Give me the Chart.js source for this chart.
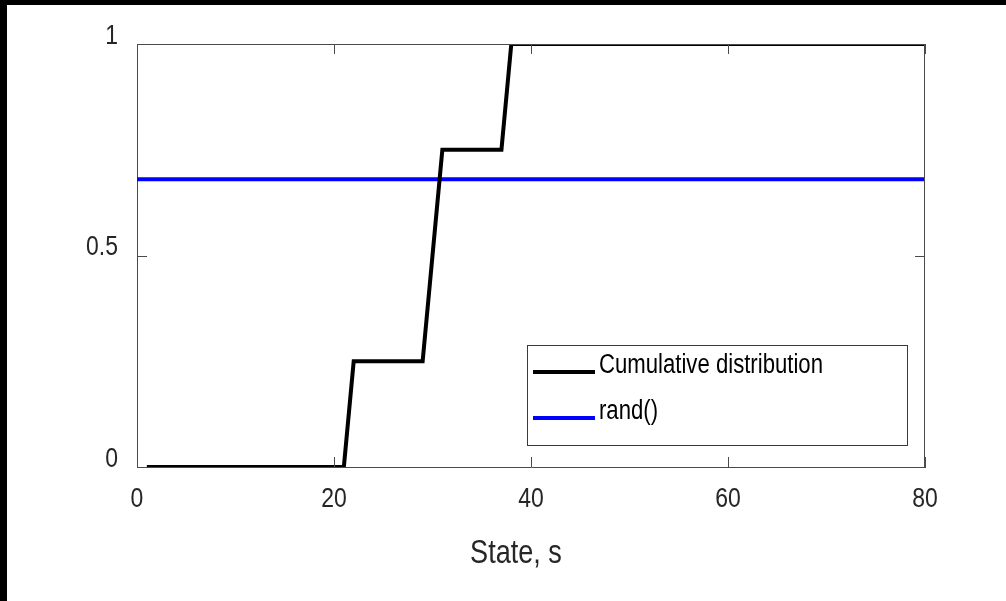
<!DOCTYPE html>
<html>
<head>
<meta charset="utf-8">
<style>
  html, body { margin: 0; padding: 0; background: #fff; }
  #wrap { width: 1006px; height: 601px; }
</style>
<script src="https://cdn.jsdelivr.net/npm/chart.js@4/dist/chart.umd.min.js"></script>
</head>
<body>
<div id="wrap"><canvas id="myChart" width="1006" height="601"></canvas></div>
<script>
var states = [1, 2, 3, 4, 5, 6, 7, 8, 9, 10, 11, 12, 13, 14, 15, 16, 17, 18, 19, 20,
  21, 22, 23, 24, 25, 26, 27, 28, 29, 30, 31, 32, 33, 34, 35, 36, 37, 38, 39, 40,
  41, 42, 43, 44, 45, 46, 47, 48, 49, 50, 51, 52, 53, 54, 55, 56, 57, 58, 59, 60,
  61, 62, 63, 64, 65, 66, 67, 68, 69, 70, 71, 72, 73, 74, 75, 76, 77, 78, 79, 80];
var cdf = [0, 0, 0, 0, 0, 0, 0, 0, 0, 0, 0, 0, 0, 0, 0, 0, 0, 0, 0, 0,
  0, 0.25, 0.25, 0.25, 0.25, 0.25, 0.25, 0.25, 0.25, 0.5, 0.75, 0.75, 0.75, 0.75, 0.75, 0.75, 0.75, 1, 1, 1,
  1, 1, 1, 1, 1, 1, 1, 1, 1, 1, 1, 1, 1, 1, 1, 1, 1, 1, 1, 1,
  1, 1, 1, 1, 1, 1, 1, 1, 1, 1, 1, 1, 1, 1, 1, 1, 1, 1, 1, 1];
var randX = [0, 80];
var randY = [0.68, 0.68];
var seriesLabels = ["Cumulative distribution", "rand()"];
var xTitle = "State, s";
var xTicks = [0, 20, 40, 60, 80];
var yTicks = [0, 0.5, 1];

var FONT = "'Liberation Sans', Arial, sans-serif";
var TXT = '#262626';
var AX = '#4a4a4a';
var SQUEEZE = 0.82; // the reference text is a narrow face

var ctx = document.getElementById('myChart').getContext('2d');
// squeeze every text run horizontally around its anchor
var origFill = ctx.fillText;
ctx.fillText = function(t, x, y) {
  this.save();
  this.translate(x, y);
  this.scale(SQUEEZE, 1);
  origFill.call(this, t, 0, 0);
  this.restore();
};

// box on the other two sides, inward ticks, x title, legend, black strips
var matlabLook = {
  id: 'matlabLook',
  afterDraw: function(chart) {
    var c = chart.ctx, a = chart.chartArea;
    var xs = chart.scales.x, ys = chart.scales.y;
    c.save();
    c.strokeStyle = AX;
    c.lineWidth = 1;
    c.beginPath();
    c.moveTo(a.left, a.top + 0.5); c.lineTo(a.right, a.top + 0.5);
    c.moveTo(a.right - 0.5, a.top); c.lineTo(a.right - 0.5, a.bottom);
    xTicks.forEach(function(v) {
      var px = Math.round(xs.getPixelForValue(v)) + 0.5;
      c.moveTo(px, a.bottom); c.lineTo(px, a.bottom - 10);
      c.moveTo(px, a.top); c.lineTo(px, a.top + 10);
    });
    yTicks.forEach(function(v) {
      var py = Math.round(ys.getPixelForValue(v)) + 0.5;
      c.moveTo(a.left, py); c.lineTo(a.left + 10, py);
      c.moveTo(a.right, py); c.lineTo(a.right - 10, py);
    });
    c.stroke();

    // x axis title sits a bit left of centre in the reference
    c.font = '33px ' + FONT;
    c.fillStyle = TXT;
    c.textAlign = 'center';
    c.textBaseline = 'alphabetic';
    c.fillText(xTitle, (a.left + a.right) / 2 - 15, 563);

    // legend
    var lx = 527, ly = 345, lw = 380, lh = 100;
    c.fillStyle = '#fff';
    c.fillRect(lx, ly, lw, lh);
    c.strokeStyle = '#3a3a3a';
    c.strokeRect(lx + 0.5, ly + 0.5, lw, lh);
    c.font = '27px ' + FONT;
    c.textBaseline = 'middle';
    c.textAlign = 'left';
    chart.data.datasets.forEach(function(ds, i) {
      var yy = ly + 27 + i * 46;
      c.strokeStyle = ds.borderColor;
      c.lineWidth = 4;
      c.beginPath();
      c.moveTo(lx + 6, yy); c.lineTo(lx + 68, yy);
      c.stroke();
      c.fillStyle = '#000';
      c.fillText(ds.label, lx + 72, yy - 6);
    });

    c.fillStyle = '#000';
    c.fillRect(0, 0, chart.width, 5);
    c.fillRect(0, 0, 7, chart.height);
    c.restore();
  }
};

var chart = new Chart(ctx, {
  type: 'line',
  data: {
    datasets: [{
      label: seriesLabels[0],
      data: states.map(function(s, i) { return {x: s, y: cdf[i]}; }),
      borderColor: '#000000',
      borderWidth: 4,
      pointRadius: 0,
      tension: 0,
      fill: false
    }, {
      label: seriesLabels[1],
      data: randX.map(function(s, i) { return {x: s, y: randY[i]}; }),
      borderColor: '#0000ff',
      borderWidth: 4,
      pointRadius: 0,
      tension: 0,
      fill: false
    }]
  },
  options: {
    responsive: false,
    animation: false,
    layout: { padding: { left: 0, top: 44, right: 81, bottom: 0 } },
    plugins: { legend: { display: false }, tooltip: { enabled: false } },
    scales: {
      x: {
        type: 'linear',
        min: 0, max: 80,
        afterFit: function(s) { s.height = 134; },
        afterBuildTicks: function(s) { s.ticks = xTicks.map(function(v) { return {value: v}; }); },
        grid: { display: false },
        border: { display: true, color: AX, width: 1 },
        ticks: { color: TXT, padding: 7, maxRotation: 0, font: { family: FONT, size: 28 } }
      },
      y: {
        min: 0, max: 1,
        afterFit: function(s) { s.width = 137; },
        afterBuildTicks: function(s) { s.ticks = yTicks.map(function(v) { return {value: v}; }); },
        grid: { display: false },
        border: { display: true, color: AX, width: 1 },
        ticks: { color: TXT, padding: 11, labelOffset: -8, font: { family: FONT, size: 28 },
          callback: function(v) { return String(v); } }
      }
    }
  },
  plugins: [matlabLook]
});
</script>
</body>
</html>
